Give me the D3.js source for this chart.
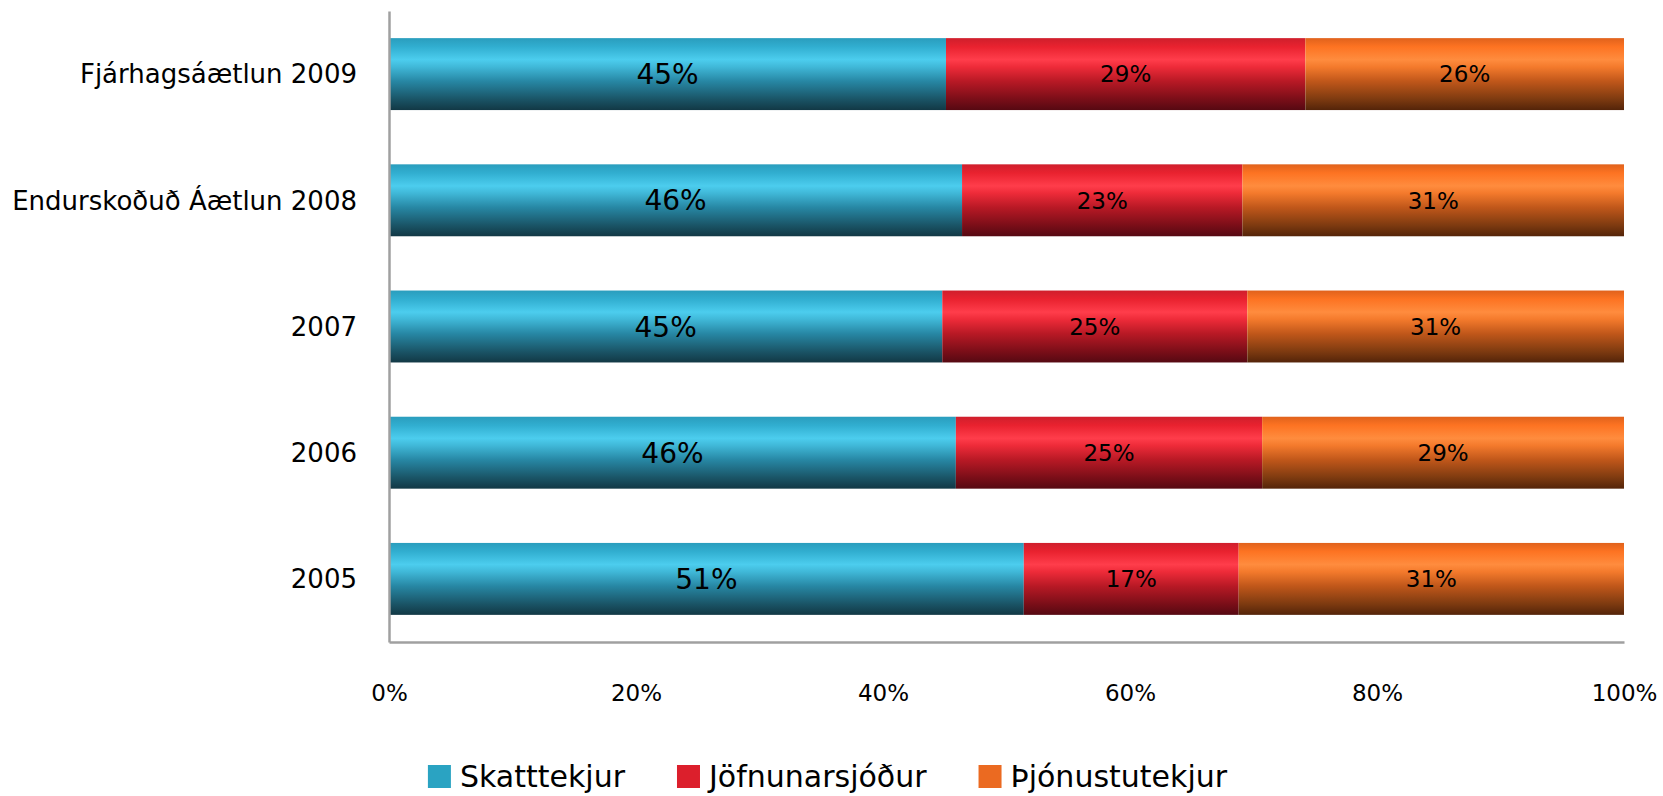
<!DOCTYPE html>
<html>
<head>
<meta charset="utf-8">
<script src="https://cdn.jsdelivr.net/npm/d3@7"></script>
<style>
   html, body { margin: 0; padding: 0; background: #fff; }
   svg { display: block; font-family: "DejaVu Sans", Verdana, sans-serif; }
</style>
</head>
<body>
<svg id="chart" width="1663" height="796"></svg>
<script>
// categories, top to bottom
const categories = [ 'Fjárhagsáætlun 2009', 'Endurskoðuð Áætlun 2008', '2007', '2006', '2005' ];
// share of income per category, in percent
const skatttekjur = [ 45.1, 46.4, 44.8, 45.9, 51.4 ];
const jofnunarsjodur = [ 29.1, 22.7, 24.7, 24.8, 17.4 ];
const thjonustutekjur = [ 25.8, 30.9, 30.5, 29.3, 31.2 ];
const seriesNames = [ 'Skatttekjur', 'Jöfnunarsjóður', 'Þjónustutekjur' ];
const xTicks = [ 0, 20, 40, 60, 80, 100 ];

const palette = {
   Skatttekjur: { swatch: '#2aa3c2', stops: [ '#2a9dbd', '#31aed0', '#4ccdee', '#40b8d8', '#2787a4', '#1a5466', '#123845' ], label: 28 },
   'Jöfnunarsjóður': { swatch: '#dc1f2c', stops: [ '#cf1f2c', '#e9222f', '#ff3d4b', '#ee2b39', '#b81925', '#7a0e18', '#560912' ], label: 23 },
   'Þjónustutekjur': { swatch: '#eb6a21', stops: [ '#e0621c', '#fd7322', '#ff8c3e', '#f47a2c', '#c0571a', '#7d3a10', '#542409' ], label: 23 }
};
const stopOffsets = [ 0, 0.12, 0.3, 0.4, 0.6, 0.85, 1 ];

const table = categories.map( ( c, i ) => ( {
   category: c,
   Skatttekjur: skatttekjur[ i ],
   'Jöfnunarsjóður': jofnunarsjodur[ i ],
   'Þjónustutekjur': thjonustutekjur[ i ]
} ) );

const svg = d3.select( '#chart' );
const plot = { left: 389, right: 1624, top: 11, bottom: 642 };

const x = d3.scaleLinear().domain( [ 0, 100 ] ).range( [ plot.left, plot.right ] );
const y = d3.scaleBand().domain( categories ).range( [ plot.top, plot.bottom ] )
   .paddingInner( 0.43 ).paddingOuter( 0.215 );

// vertical "glossy" gradients, one per series
const defs = svg.append( 'defs' );
seriesNames.forEach( ( name, i ) => {
   const grad = defs.append( 'linearGradient' )
      .attr( 'id', 'grad' + i )
      .attr( 'x1', 0 ).attr( 'y1', 0 ).attr( 'x2', 0 ).attr( 'y2', 1 );
   palette[ name ].stops.forEach( ( col, j ) => {
      grad.append( 'stop' ).attr( 'offset', stopOffsets[ j ] ).attr( 'stop-color', col );
   } );
} );

const stacked = d3.stack().keys( seriesNames )( table );

const layers = svg.append( 'g' ).selectAll( 'g' )
   .data( stacked )
   .join( 'g' )
   .attr( 'fill', ( d, i ) => `url(#grad${i})` );

layers.selectAll( 'rect' )
   .data( d => d )
   .join( 'rect' )
   .attr( 'x', d => x( d[ 0 ] ) )
   .attr( 'y', d => y( d.data.category ) )
   .attr( 'width', d => x( d[ 1 ] ) - x( d[ 0 ] ) )
   .attr( 'height', y.bandwidth() );

// value labels
stacked.forEach( layer => {
   svg.append( 'g' ).selectAll( 'text' )
      .data( layer )
      .join( 'text' )
      .attr( 'x', d => ( x( d[ 0 ] ) + x( d[ 1 ] ) ) / 2 )
      .attr( 'y', d => y( d.data.category ) + y.bandwidth() / 2 )
      .attr( 'dy', '0.36em' )
      .attr( 'text-anchor', 'middle' )
      .attr( 'font-size', palette[ layer.key ].label )
      .attr( 'fill', '#000' )
      .text( d => Math.round( d[ 1 ] - d[ 0 ] ) + '%' );
} );

// axes
const yAxis = svg.append( 'g' )
   .attr( 'transform', `translate(${plot.left},0)` )
   .call( d3.axisLeft( y ).tickSize( 0 ).tickPadding( 32 ) );
yAxis.selectAll( 'text' ).attr( 'font-size', 26 ).attr( 'fill', '#000' ).attr( 'dy', '0.36em' );

const xAxis = svg.append( 'g' )
   .attr( 'transform', `translate(0,${plot.bottom})` )
   .call( d3.axisBottom( x ).tickValues( xTicks ).tickSize( 0 ).tickPadding( 43 ).tickFormat( d => d + '%' ) );
xAxis.selectAll( 'text' ).attr( 'font-size', 23 ).attr( 'fill', '#000' );

[ yAxis, xAxis ].forEach( a => {
   a.attr( 'font-family', null );
   a.select( '.domain' ).attr( 'stroke', '#a0a0a0' ).attr( 'stroke-width', 2.5 );
} );

// legend, centred on the page
const legend = svg.append( 'g' );
const items = legend.selectAll( 'g' )
   .data( seriesNames )
   .join( 'g' );
items.append( 'rect' )
   .attr( 'width', 23 ).attr( 'height', 23 )
   .attr( 'y', -22 )
   .attr( 'fill', d => palette[ d ].swatch );
items.append( 'text' )
   .attr( 'x', 32 )
   .attr( 'font-size', 30 )
   .attr( 'fill', '#000' )
   .text( d => d );

const itemGap = 52;
let offset = 0;
items.each( function () {
   const w = 32 + this.querySelector( 'text' ).getComputedTextLength();
   d3.select( this ).attr( 'transform', `translate(${offset},0)` );
   offset += w + itemGap;
} );
const legendWidth = offset - itemGap;
legend.attr( 'transform', `translate(${( 1663 - legendWidth ) / 2 - 4},787)` );
</script>
</body>
</html>
